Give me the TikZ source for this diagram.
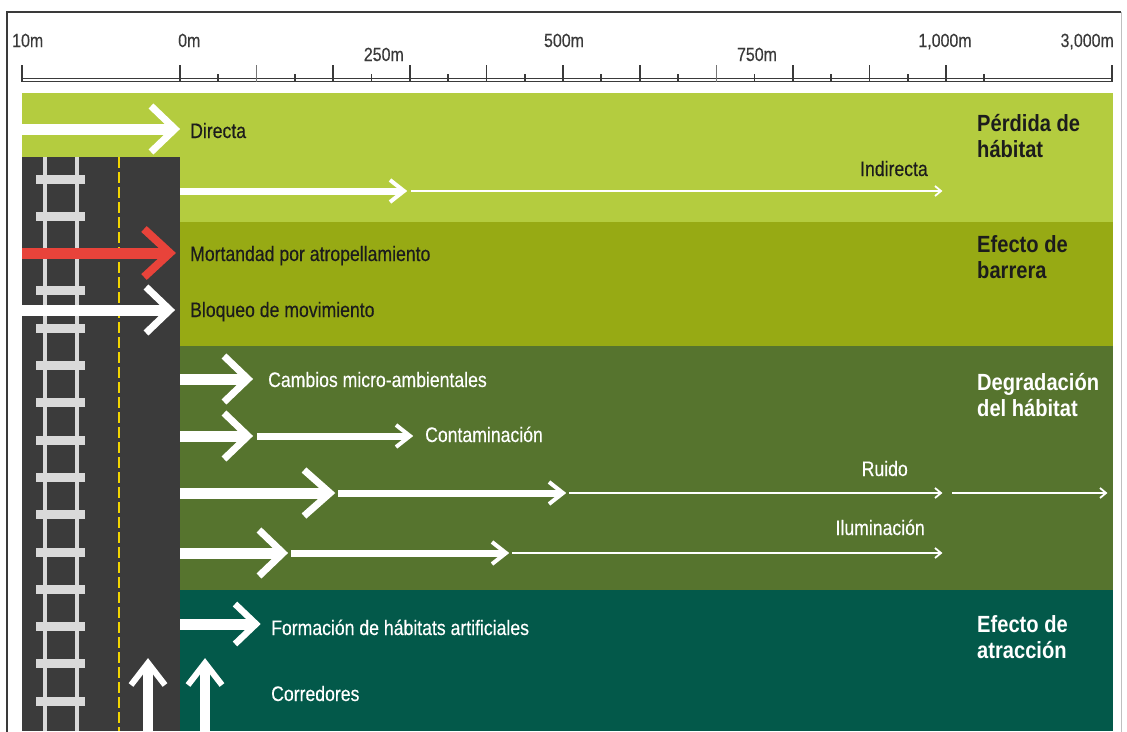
\documentclass[tikz,border=0pt]{standalone}
\usepackage{fontspec}
\setmainfont{Liberation Sans}
\newfontfamily\labfont{Liberation Sans}[FakeStretch=0.84, FakeBold=0.3]
\newfontfamily\headfont{Liberation Sans}[FakeStretch=0.86]
\usetikzlibrary{calc}
\definecolor{bandA}{HTML}{B4CC3F}
\definecolor{bandB}{HTML}{97AA14}
\definecolor{bandC}{HTML}{56742E}
\definecolor{bandD}{HTML}{03594A}
\definecolor{roadc}{HTML}{3B3B3B}
\definecolor{railc}{HTML}{D9D9D9}
\definecolor{yellowc}{HTML}{F2D500}
\definecolor{redc}{HTML}{E8433A}
\definecolor{darktext}{HTML}{1C1C1C}
\definecolor{scalec}{HTML}{3A3A3A}
% #1 start, #2 head vertex, #3 shaft width, #4 head length, #5 head half width, #6 head line width, #7 colour
\newcommand\hArrow[7]{%
  \draw[#7, line width=#3pt, line cap=butt] (#1) -- ($(#2)+(-0.5*#6,0)$);
  \draw[#7, line width=#6pt, line cap=butt, line join=miter, miter limit=10]
    ($(#2)+(-#4,-#5)$) -- (#2) -- ($(#2)+(-#4,#5)$);}
\newcommand\vArrow[7]{%
  \draw[#7, line width=#3pt, line cap=butt] (#1) -- ($(#2)+(0,0.5*#6)$);
  \draw[#7, line width=#6pt, line cap=butt, line join=miter, miter limit=10]
    ($(#2)+(-#5,#4)$) -- (#2) -- ($(#2)+(#5,#4)$);}
\begin{document}
\begin{tikzpicture}[x=1pt,y=-1pt,
  lab/.style={font=\labfont\fontsize{21}{24}\selectfont, inner sep=0pt, anchor=base west},
  head/.style={font=\headfont\fontsize{23.4}{26}\selectfont\bfseries, inner sep=0pt, anchor=base west},
  sc/.style={font=\labfont\fontsize{19}{22}\selectfont, inner sep=0pt, anchor=base, text=scalec},
  tall/.style={scalec, line width=1.8pt},
  tallthin/.style={scalec!70, line width=0.9pt},
  short/.style={scalec, line width=1.8pt}]
\useasboundingbox (0,0) rectangle (1127,731);
\fill[white] (0,0) rectangle (1127,731);
% frame
\draw[scalec, line width=1.2pt] (7,740) -- (7,12) -- (1121,12);
\draw[black!25, line width=1pt] (1121,12) -- (1121,740);
% scale bar
\draw[scalec, line width=1.2pt] (22,78.5) -- (1113,78.5);
\draw[scalec, line width=1.2pt] (22,81.5) -- (1113,81.5);
\draw[tall] (22,65) -- (22,81.5);
\draw[tall] (1112,65) -- (1112,81.5);
\foreach \k in {0,4,6,8,10,12,16,18,20}
  \draw[tall] ({180+38.3*\k},65) -- ({180+38.3*\k},81.5);
\foreach \k in {2,14}
  \draw[tallthin] ({180+38.3*\k},65) -- ({180+38.3*\k},81.5);
\foreach \k in {1,3,...,21}
  \draw[short] ({180+38.3*\k},74) -- ({180+38.3*\k},81.5);
\node[sc, anchor=base west] (s10) at (12,47) {10m};
\node[sc, anchor=base west] (s0) at (178,47) {0m};
\node[sc, anchor=base east] (s250) at (404,61) {250m};
\node[sc] (s500) at (564,47) {500m};
\node[sc] (s750) at (757,61) {750m};
\node[sc] (s1000) at (945,47) {1,000m};
\node[sc, anchor=base east] (s3000) at (1114,47) {3,000m};
% bands
\fill[bandA] (22,93) rectangle (1113,222);
\fill[bandB] (22,222) rectangle (1113,346);
\fill[bandC] (22,346) rectangle (1113,590);
\fill[bandD] (22,590) rectangle (1113,731);
% road and rails
\fill[roadc] (22,157) rectangle (180,731);
\fill[railc] (42.5,157) rectangle (46.5,731);
\fill[railc] (74.5,157) rectangle (78.5,731);
\foreach \k in {0,...,15}
  \fill[railc] (36,{179+37.3*\k-4.5}) rectangle (85,{179+37.3*\k+4.5});
\draw[yellowc, line width=2.5pt, dash pattern=on 11pt off 4pt] (119,157) -- (119,731);
% coordinates
\coordinate (dirS) at (22,129);   \coordinate (dirV) at (175,129);
\coordinate (indS) at (180,191);  \coordinate (indV) at (404,191);
\coordinate (ind2S) at (411,191); \coordinate (ind2V) at (941,191);
\coordinate (morS) at (22,253);   \coordinate (morV) at (170,253);
\coordinate (bloS) at (9,310);    \coordinate (bloV) at (170,310);
\coordinate (camS) at (180,379);  \coordinate (camV) at (248,379);
\coordinate (conS) at (180,436);  \coordinate (conV) at (248,436);
\coordinate (con2S) at (257,436); \coordinate (con2V) at (410,436);
\coordinate (ruiS) at (180,493);  \coordinate (ruiV) at (330,493);
\coordinate (rui2S) at (338,493); \coordinate (rui2V) at (563,493);
\coordinate (rui3S) at (569,493); \coordinate (rui3V) at (941,493);
\coordinate (rui4S) at (952,493); \coordinate (rui4V) at (1106,493);
\coordinate (ilu1S) at (180,553); \coordinate (ilu1V) at (283,553);
\coordinate (ilu2S) at (291,553); \coordinate (ilu2V) at (506,553);
\coordinate (ilu3S) at (512,553); \coordinate (ilu3V) at (941,553);
\coordinate (forS) at (180,624);  \coordinate (forV) at (256,624);
\coordinate (cor1S) at (148,731); \coordinate (cor1V) at (148,663);
\coordinate (cor2S) at (205,731); \coordinate (cor2V) at (205,663);
% arrows
\hArrow{dirS}{dirV}{11}{24}{23}{7}{white}
\hArrow{indS}{indV}{7}{14}{11}{4}{white}
\hArrow{ind2S}{ind2V}{2.5}{6}{5}{1.8}{white}
\hArrow{morS}{morV}{11}{26}{24}{8}{redc}
\hArrow{bloS}{bloV}{11}{24}{23}{7}{white}
\hArrow{camS}{camV}{11}{24}{23}{7}{white}
\hArrow{conS}{conV}{11}{24}{23}{7}{white}
\hArrow{con2S}{con2V}{7}{14}{11}{4}{white}
\hArrow{ruiS}{ruiV}{11}{26}{23}{7}{white}
\hArrow{rui2S}{rui2V}{7}{14}{11}{4}{white}
\hArrow{rui3S}{rui3V}{2.5}{6}{5}{1.8}{white}
\hArrow{rui4S}{rui4V}{2.5}{6}{5}{1.8}{white}
\hArrow{ilu1S}{ilu1V}{11}{24}{23}{7}{white}
\hArrow{ilu2S}{ilu2V}{7}{14}{11}{4}{white}
\hArrow{ilu3S}{ilu3V}{2.5}{6}{5}{1.8}{white}
\hArrow{forS}{forV}{11}{21}{20}{6.5}{white}
\vArrow{cor1S}{cor1V}{10}{22}{17}{6}{white}
\vArrow{cor2S}{cor2V}{10}{22}{17}{6}{white}
% labels
\node[lab, text=darktext] (tdir) at (190,138) {Directa};
\node[lab, text=darktext, anchor=base east] (tind) at (928,176) {Indirecta};
\node[lab, text=darktext] (tmor) at (190,261) {Mortandad por atropellamiento};
\node[lab, text=darktext] (tblo) at (190,317) {Bloqueo de movimiento};
\node[lab, text=white] (tcam) at (268,387) {Cambios micro-ambientales};
\node[lab, text=white] (tcon) at (425,442) {Contaminación};
\node[lab, text=white, anchor=base east] (trui) at (908,476) {Ruido};
\node[lab, text=white, anchor=base east] (tilu) at (925,535) {Iluminación};
\node[lab, text=white] (tfor) at (271,635) {Formación de hábitats artificiales};
\node[lab, text=white] (tcor) at (271,701) {Corredores};
% headings
\node[head, text=darktext] (h1a) at (977,131) {Pérdida de};
\node[head, text=darktext] (h1b) at (977,157) {hábitat};
\node[head, text=darktext] (h2a) at (977,252) {Efecto de};
\node[head, text=darktext] (h2b) at (977,278) {barrera};
\node[head, text=white] (h3a) at (977,390) {Degradación};
\node[head, text=white] (h3b) at (977,416) {del hábitat};
\node[head, text=white] (h4a) at (977,632) {Efecto de};
\node[head, text=white] (h4b) at (977,658) {atracción};
\end{tikzpicture}
\end{document}
